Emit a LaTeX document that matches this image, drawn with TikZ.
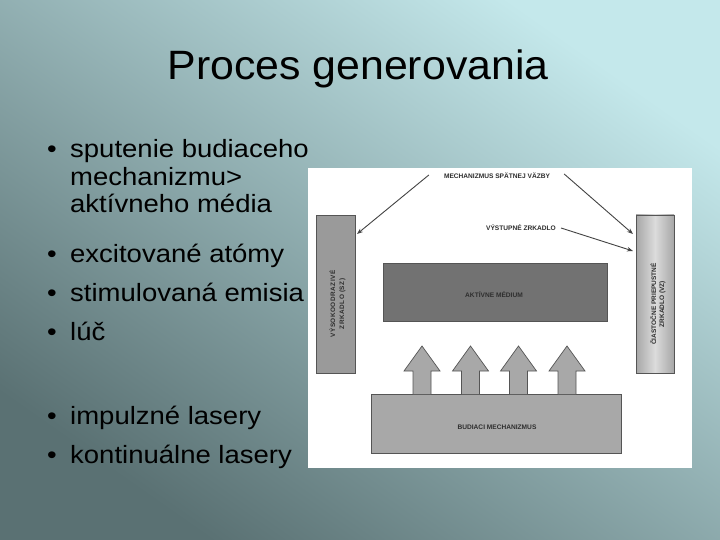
\documentclass[tikz,border=0pt]{standalone}
\usepackage{fontspec}
\setmainfont{Liberation Sans}
\newfontfamily\titlefont[FakeStretch=1.045]{Liberation Sans}
\newfontfamily\bulletfont[FakeStretch=1.1]{Liberation Sans}
\newfontfamily\spacedfont[LetterSpace=8]{Liberation Sans}
\usetikzlibrary{arrows.meta,calc}
\definecolor{bgdark}{HTML}{5A7173}
\definecolor{bgmid}{HTML}{8EABAE}
\definecolor{bglight}{HTML}{C4E8EB}
\definecolor{inkgray}{HTML}{2E2E2E}
\definecolor{edgegray}{HTML}{555555}
\definecolor{mirrorL}{HTML}{9A9A9A}
\definecolor{mirrorR}{HTML}{C4C4C4}
\definecolor{mediumgray}{HTML}{727272}
\definecolor{pumpgray}{HTML}{A8A8A8}
\tikzset{
  block/.style={draw=edgegray, line width=0.7pt, inner sep=0pt, text=inkgray},
  lab/.style={inner sep=0pt, text=inkgray, font=\bfseries\fontsize{6.6}{8.5}\selectfont},
  fb/.style={draw=inkgray!90, line width=0.9pt, -{Stealth[length=6pt,width=4.5pt]}},
  blockarrow/.style={draw=edgegray, line width=0.7pt, fill=pumpgray},
  bul/.style={inner sep=0pt, anchor=base, font=\bulletfont\fontsize{25}{30}\selectfont},
  btext/.style={inner sep=0pt, anchor=base west, font=\bulletfont\fontsize{25}{30}\selectfont}
}
\begin{document}
\begin{tikzpicture}[x=1pt, y=-1pt]
\useasboundingbox (0,0) rectangle (720,540);
% background
\shade[bottom color=bgdark, middle color=bgmid, top color=bglight, shading angle=-35]
  (0,0) rectangle (720,540);
% title
\node[inner sep=0pt, anchor=base, font=\titlefont\fontsize{41}{48}\selectfont] (title) at (358,80) {Proces generovania};
% bullets
\node[bul] (b1) at (52,158) {•};
\node[btext] (t1a) at (70,158) {sputenie budiaceho};
\node[btext] (t1b) at (70,186) {mechanizmu>};
\node[btext] (t1c) at (70,213) {aktívneho média};
\node[bul] (b2) at (52,262) {•};
\node[btext] (t2) at (70,262) {excitované atómy};
\node[bul] (b3) at (52,301) {•};
\node[btext] (t3) at (70,301) {stimulovaná emisia};
\node[bul] (b4) at (52,340) {•};
\node[btext] (t4) at (70,340) {lúč};
\node[bul] (b5) at (52,424) {•};
\node[btext] (t5) at (70,424) {impulzné lasery};
\node[bul] (b6) at (52,463) {•};
\node[btext] (t6) at (70,463) {kontinuálne lasery};
% white panel
\fill[white] (308,168) rectangle (692,468);
% mirrors
\node[block, fill=mirrorL, minimum width=39pt, minimum height=158pt] (sz) at (335.5,294) {};
\node[lab, rotate=90, align=center, font=\spacedfont\bfseries\fontsize{6.4}{9}\selectfont] (sztext) at (337.5,304) {VÝSOKOODRAZIVÉ\\ZRKADLO (SZ)};
\node[block, minimum width=38pt, minimum height=158pt, left color=mirrorR!85!black, right color=mirrorR!85!black, middle color=mirrorR!60!white] (vz) at (655,294) {};
\node[lab, rotate=90, align=center, font=\bfseries\fontsize{6.5}{8}\selectfont] (vztext) at (658,304) {ČIASTOČNE PRIEPUSTNÉ\\ZRKADLO (VZ)};
% active medium
\node[block, fill=mediumgray, minimum width=224pt, minimum height=58pt] (am) at (495,292) {};
\node[lab] (amtext) at (494,295) {AKTÍVNE MÉDIUM};
% pump
\node[block, fill=pumpgray, minimum width=250pt, minimum height=59pt] (bm) at (496,423.5) {};
\node[lab] (bmtext) at (497,427) {BUDIACI MECHANIZMUS};
% pump arrows
\foreach \cx in {422,470.5,518.5,567}{
  \draw[blockarrow] (\cx-9,394) -- (\cx-9,371) -- (\cx-18,371) -- (\cx,346)
     -- (\cx+18,371) -- (\cx+9,371) -- (\cx+9,394);
}
% labels and feedback arrows
\node[lab] (msv) at (497,176) {MECHANIZMUS SPÄTNEJ VÄZBY};
\node[lab] (vyz) at (521,228) {VÝSTUPNÉ ZRKADLO};
\coordinate (szin) at (357,234);
\coordinate (vzin1) at (633,234);
\coordinate (vzin2) at (633,251);
\draw[fb] ([xshift=-15pt,yshift=1pt]msv.west) -- (szin);
\draw[fb] ([xshift=14pt,yshift=2pt]msv.east) -- (vzin1);
\draw[fb] ([xshift=5pt]vyz.east) -- (vzin2);
\end{tikzpicture}
\end{document}
